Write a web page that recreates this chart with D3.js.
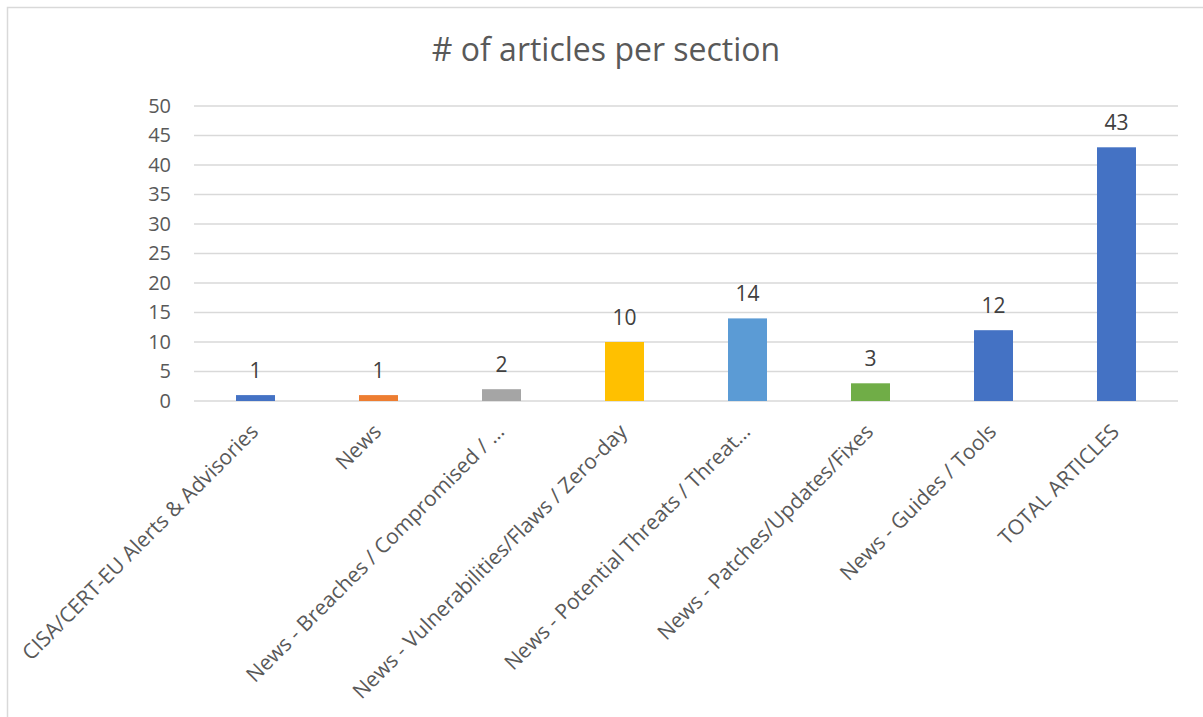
<!DOCTYPE html>
<html>
<head>
<meta charset="utf-8">
<script src="https://cdn.jsdelivr.net/npm/d3@7"></script>
<style>
  html, body { margin: 0; padding: 0; background: #fff; }
  svg { display: block; }
  text { font-family: "Open Sans", "Noto Sans", sans-serif; }
</style>
</head>
<body>
<svg id="chart" width="1203" height="717"></svg>
<script>
const title = "# of articles per section";
const categories = [
  "CISA/CERT-EU Alerts & Advisories",
  "News",
  "News - Breaches / Compromised / …",
  "News - Vulnerabilities/Flaws / Zero-day",
  "News - Potential Threats / Threat…",
  "News - Patches/Updates/Fixes",
  "News - Guides / Tools",
  "TOTAL ARTICLES"
];
const values = [1, 1, 2, 10, 14, 3, 12, 43];
const colors = ["#4472C4", "#ED7D31", "#A5A5A5", "#FFC000", "#5B9BD5", "#70AD47", "#4472C4", "#4472C4"];
const yTicks = [0, 5, 10, 15, 20, 25, 30, 35, 40, 45, 50];

const svg = d3.select("#chart");
const W = 1203, H = 717;

// outer border
svg.append("rect")
  .attr("x", 7.5).attr("y", 7.5)
  .attr("width", W).attr("height", H)
  .attr("fill", "#fff")
  .attr("stroke", "#d9d9d9").attr("stroke-width", 1.5);

const plot = { left: 194, right: 1178, top: 106, bottom: 401 };

const x = d3.scaleBand()
  .domain(categories)
  .range([plot.left, plot.right])
  .paddingInner(0.683)
  .paddingOuter(0.683 / 2);

const y = d3.scaleLinear().domain([0, 50]).range([plot.bottom, plot.top]);

// title
svg.append("text")
  .attr("x", 606).attr("y", 61)
  .attr("text-anchor", "middle")
  .attr("font-size", 32)
  .attr("fill", "#595959")
  .text(title);

// gridlines
svg.append("g").selectAll("line")
  .data(yTicks)
  .join("line")
  .attr("x1", plot.left).attr("x2", plot.right)
  .attr("y1", d => y(d)).attr("y2", d => y(d))
  .attr("stroke", "#d9d9d9").attr("stroke-width", 1.5);

// y axis labels
const yAxis = d3.axisLeft(y).tickValues(yTicks).tickSize(0).tickPadding(0);
const gy = svg.append("g")
  .attr("transform", `translate(${plot.left - 23},0)`)
  .call(yAxis);
gy.select(".domain").remove();
gy.selectAll("text")
  .attr("font-size", 20)
  .attr("fill", "#595959")
  .attr("font-family", "\"Open Sans\", sans-serif");

// bars
svg.append("g").selectAll("rect")
  .data(values)
  .join("rect")
  .attr("x", (d, i) => x(categories[i]))
  .attr("width", x.bandwidth())
  .attr("y", d => y(d))
  .attr("height", d => y(0) - y(d))
  .attr("fill", (d, i) => colors[i]);

// value labels
svg.append("g").selectAll("text")
  .data(values)
  .join("text")
  .attr("x", (d, i) => x(categories[i]) + x.bandwidth() / 2)
  .attr("y", d => y(d) - 17)
  .attr("text-anchor", "middle")
  .attr("font-size", 21)
  .attr("fill", "#404040")
  .text(d => d);

// category labels
const xAxis = d3.axisBottom(x).tickSize(0).tickPadding(0);
const gx = svg.append("g")
  .attr("transform", `translate(0,${plot.bottom})`)
  .call(xAxis);
gx.select(".domain").remove();
gx.selectAll("text")
  .attr("font-size", 21)
  .attr("fill", "#595959")
  .attr("font-family", "\"Open Sans\", sans-serif")
  .attr("text-anchor", "end")
  .attr("dy", 0)
  .attr("y", 0)
  .attr("transform", "translate(4,32) rotate(-45)");
</script>
</body>
</html>
